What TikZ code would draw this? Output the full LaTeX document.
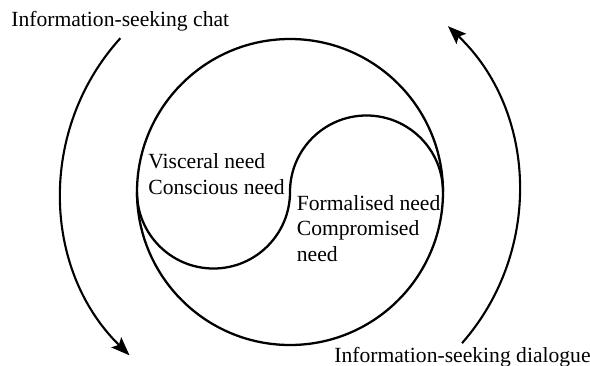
\documentclass[tikz,border=0pt]{standalone}
\usepackage{fontspec}
\setmainfont{Liberation Serif}
\usetikzlibrary{arrows.meta}
\tikzset{
  ring/.style={draw=black, line width=1.3pt},
  flow/.style={draw=black, line width=1.2pt, -{Stealth[length=10.5pt, width=8pt, inset=2pt]}},
  lab/.style={font=\fontsize{12.3}{14.6}\selectfont, inner sep=0pt, align=left},
}
\begin{document}
\begin{tikzpicture}[x=0.02cm, y=0.02cm]
  \useasboundingbox (-290,-173) rectangle (300,192);
  \coordinate (O) at (0,0);
  % outer circle and the S-shaped divide
  \draw[ring] (O) circle[radius=153];
  \draw[ring] (-153,0) arc[start angle=180, end angle=360, radius=76.5]
                       arc[start angle=180, end angle=0, radius=76.5];
  % circulating arrows round the outside
  \draw[flow] ([shift={(137.8:229)}]O) arc[start angle=137.8, end angle=225.5, radius=229];
  \draw[flow] ([shift={(-41.3:229)}]O) arc[start angle=-41.3, end angle=46.4, radius=229];
  \node[lab, anchor=base west] (chat) at (-279,165) {Information-seeking chat};
  \node[lab, anchor=base west] (dialogue) at (44,-170) {Information-seeking dialogue};
  \node[lab, anchor=north west] (left) at (-142,39) {Visceral need\\Conscious need};
  \node[lab, anchor=north west] (right) at (6.5,-2.7) {Formalised need\\Compromised\\need};
\end{tikzpicture}
\end{document}
